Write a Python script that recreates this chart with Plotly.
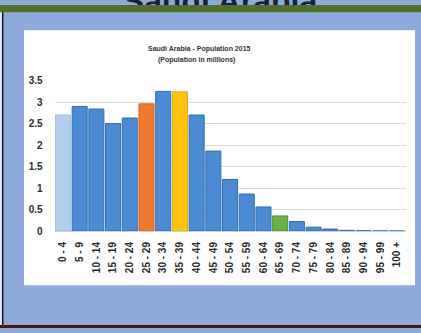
import plotly.graph_objects as go

# Age groups and population (millions), Saudi Arabia 2015
age_groups = ["0 - 4", "5 - 9", "10 - 14", "15 - 19", "20 - 24", "25 - 29", "30 - 34",
              "35 - 39", "40 - 44", "45 - 49", "50 - 54", "55 - 59", "60 - 64", "65 - 69",
              "70 - 74", "75 - 79", "80 - 84", "85 - 89", "90 - 94", "95 - 99", "100 +"]
population = [2.70, 2.90, 2.84, 2.50, 2.63, 2.96, 3.25, 3.24, 2.70, 1.86, 1.20, 0.86,
              0.56, 0.35, 0.22, 0.09, 0.045, 0.015, 0.006, 0.002, 0.0005]
y_ticks = [0, 0.5, 1, 1.5, 2, 2.5, 3, 3.5]
y_tick_text = ["0", "0.5", "1", "1.5", "2", "2.5", "3", "3.5"]

W, H = 421, 333

BLUE, BLUE_EDGE = "#4a8bd3", "#2f6db5"
fill = [BLUE] * len(age_groups)
edge = [BLUE_EDGE] * len(age_groups)
highlights = {0: ("#b3cfee", "#9dbfe6"), 5: ("#ee7a30", "#d0621c"),
              7: ("#ffc20e", "#e9ab00"), 13: ("#6cb043", "#4e8f2c")}
for i, (f, e) in highlights.items():
    fill[i], edge[i] = f, e


def px_x(v):
    return v / W


def px_y(v):
    return 1 - v / H


fig = go.Figure(go.Bar(
    x=age_groups, y=population,
    marker=dict(color=fill, line=dict(color=edge, width=1)),
    hoverinfo="x+y",
))

shapes = [
    # slide background strips and chart panel
    dict(type="rect", xref="paper", yref="paper", x0=0, x1=px_x(2), y0=0, y1=1,
         fillcolor="#dfe6f2", line_width=0, layer="below"),
    dict(type="rect", xref="paper", yref="paper", x0=px_x(2), x1=px_x(3.4), y0=0, y1=1,
         fillcolor="#111111", line_width=0, layer="below"),
    dict(type="rect", xref="paper", yref="paper", x0=px_x(24), x1=px_x(415),
         y0=px_y(289), y1=px_y(26), fillcolor="#ffffff", line_width=0, layer="below"),
    dict(type="rect", xref="paper", yref="paper", x0=0, x1=1, y0=0, y1=px_y(330),
         fillcolor="#4a1a12", line_width=0, layer="below"),
    # slide heading, partly hidden under the top band
    dict(type="rect", xref="paper", yref="paper", x0=px_x(60), x1=px_x(380),
         y0=px_y(-1), y1=px_y(-13), fillcolor="rgba(0,0,0,0)", line_width=0,
         layer="above",
         label=dict(text="<b>Saudi Arabia</b>", textposition="middle center",
                    font=dict(family="Liberation Sans", size=32, color="#1b1f3c"))),
    dict(type="rect", xref="paper", yref="paper", x0=0, x1=1, y0=px_y(7.5), y1=1,
         fillcolor="#53702b", line_width=0, layer="above"),
]

annotations = [
    dict(text="<b>Saudi Arabia - Population 2015</b>", x=px_x(199), y=px_y(45),
         xref="paper", yref="paper", showarrow=False, xanchor="center", yanchor="middle",
         font=dict(family="Liberation Sans", size=7, color="#333333")),
    dict(text="<b>(Population in millions)</b>", x=px_x(196), y=px_y(57),
         xref="paper", yref="paper", showarrow=False, xanchor="center", yanchor="middle",
         font=dict(family="Liberation Sans", size=7, color="#333333")),
]

fig.update_layout(
    width=W, height=H,
    margin=dict(l=0, r=0, t=0, b=0),
    paper_bgcolor="#8eaadb",
    plot_bgcolor="rgba(0,0,0,0)",
    bargap=0.1,
    showlegend=False,
    shapes=shapes,
    annotations=annotations,
    xaxis=dict(
        domain=[px_x(54.6), px_x(405.5)],
        type="category",
        tickangle=-90,
        tickfont=dict(family="Liberation Sans", size=10, color="#2a2a2a", weight="bold"),
        ticklabelstandoff=6,
        showgrid=False,
        showline=True, linecolor="#d0d0d0", linewidth=1,
        ticks="",
    ),
    yaxis=dict(
        domain=[px_y(233), px_y(78)],
        range=[0, 3.5],
        tickvals=y_ticks, ticktext=y_tick_text,
        tickfont=dict(family="Liberation Sans", size=10, color="#2a2a2a", weight="bold"),
        ticklabelstandoff=11,
        showgrid=True, gridcolor="#dcdcdc", gridwidth=1,
        zeroline=False,
        ticks="",
    ),
)

fig.write_html("out.html")
